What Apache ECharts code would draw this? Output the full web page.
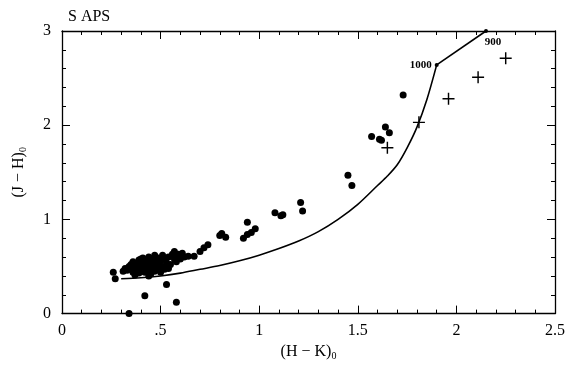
<!DOCTYPE html>
<html>
<head>
<meta charset="utf-8">
<script src="https://cdn.jsdelivr.net/npm/echarts@6/dist/echarts.min.js"></script>
<style>html,body{margin:0;padding:0;background:#fff}#c{width:570px;height:366px}</style>
</head>
<body>
<div id="c"></div>
<script>
// Observed stars (filled dots): [H-K, J-H]
const dotPoints = [
  [0.26,0.44],[0.27,0.37],[0.34,0.00],[0.42,0.19],[0.53,0.31],[0.58,0.12],[0.54,0.48],
  [0.31,0.45],[0.32,0.48],[0.33,0.46],[0.34,0.50],[0.35,0.47],[0.35,0.52],[0.36,0.44],[0.36,0.55],
  [0.37,0.49],[0.38,0.52],[0.38,0.46],[0.39,0.57],[0.39,0.43],[0.40,0.50],[0.40,0.54],[0.41,0.47],
  [0.41,0.59],[0.42,0.52],[0.42,0.44],[0.43,0.56],[0.43,0.49],[0.44,0.60],[0.44,0.46],[0.45,0.53],
  [0.45,0.42],[0.46,0.57],[0.46,0.50],[0.47,0.62],[0.47,0.45],[0.48,0.55],[0.48,0.48],[0.49,0.59],
  [0.49,0.52],[0.50,0.44],[0.50,0.56],[0.51,0.62],[0.51,0.50],[0.52,0.58],[0.52,0.47],[0.53,0.54],
  [0.54,0.60],[0.55,0.52],[0.56,0.63],[0.57,0.58],[0.58,0.55],[0.59,0.62],[0.60,0.58],[0.61,0.64],
  [0.62,0.60],[0.40,0.58],[0.37,0.41],[0.44,0.40],[0.57,0.66],[0.59,0.63],
  [0.64,0.61],[0.67,0.61],[0.70,0.66],[0.72,0.70],[0.74,0.73],
  [0.80,0.83],[0.81,0.85],[0.83,0.81],[0.94,0.97],[0.92,0.80],[0.94,0.84],[0.96,0.86],[0.98,0.90],
  [1.08,1.07],[1.11,1.04],[1.12,1.05],[1.21,1.18],[1.22,1.09],
  [1.45,1.47],[1.47,1.36],[1.57,1.88],[1.61,1.85],[1.62,1.84],[1.64,1.98],[1.66,1.92],[1.73,2.32]
];
// Crosses
const crossPoints = [[1.65,1.76],[1.81,2.03],[1.96,2.28],[2.11,2.51],[2.25,2.71]];
// Model curve (smooth part ends at the 1000 point)
const curveX = [0.30,0.40,0.50,0.60,0.70,0.80,0.90,1.00,1.10,1.20,1.30,1.40,1.50,1.60,1.65,1.70,1.75,1.80,1.85,1.90];
const curveY = [0.37,0.38,0.40,0.43,0.47,0.51,0.56,0.62,0.69,0.77,0.87,1.00,1.16,1.36,1.46,1.58,1.76,1.98,2.27,2.64];
// Straight segment from 1000 to 900
const segX = [1.90,2.15];
const segY = [2.64,3.00];
// Temperature labels on curve
const tempLabels = [{t:'1000', x:1.90, y:2.64}, {t:'900', x:2.15, y:3.00}];
const xTicks = {0:'0',0.5:'.5',1:'1',1.5:'1.5',2:'2',2.5:'2.5'};
const yTicks = {0:'0',1:'1',2:'2',3:'3'};

const FONT = '"Liberation Serif","DejaVu Serif",serif';
const chart = echarts.init(document.getElementById('c'), null, {renderer:'canvas'});
const curveData = curveX.map((x,i)=>[x,curveY[i]]);
const segData = segX.map((x,i)=>[x,segY[i]]);
const grid = {left:62, right:15, top:31, bottom:45};
function axisCommon(){
  return {
    axisLine:{show:true, onZero:false, lineStyle:{color:'#000', width:1.3}},
    axisTick:{show:true, inside:true, length:8, lineStyle:{color:'#000', width:1}},
    minorTick:{show:true, splitNumber:5, length:4, lineStyle:{color:'#000', width:1}},
    splitLine:{show:false}
  };
}
const plus = 'path://M4.4,0h1.2v4.4h4.4v1.2h-4.4v4.4h-1.2v-4.4h-4.4v-1.2h4.4z';
const nameRich = {a:{fontFamily:FONT, fontSize:16, color:'#000'}, s:{fontFamily:FONT, fontSize:10, color:'#000', padding:[9,0,0,0]}};
chart.setOption({
  animation:false,
  backgroundColor:'#fff',
  title:{text:'S APS', left:63, top:4, textStyle:{fontFamily:FONT, fontSize:16, fontWeight:'normal', color:'#000'}},
  grid:grid,
  xAxis:[
    Object.assign({type:'value', min:0, max:2.5, interval:0.5, position:'bottom',
      name:'{a|(H − K)}{s|0}', nameLocation:'middle', nameGap:24,
      nameTextStyle:{rich:nameRich},
      axisLabel:{show:true, margin:9, fontFamily:FONT, fontSize:16, color:'#000', formatter:v=>xTicks[v]!==undefined?xTicks[v]:''}
    }, axisCommon()),
    Object.assign({type:'value', min:0, max:2.5, interval:0.5, position:'top', axisLabel:{show:false}}, axisCommon())
  ],
  yAxis:[
    Object.assign({type:'value', min:0, max:3, interval:1, position:'left',
      name:'{a|(J − H)}{s|0}', nameLocation:'middle', nameGap:34, nameRotate:90,
      nameTextStyle:{rich:nameRich},
      axisLabel:{show:true, margin:11, fontFamily:FONT, fontSize:16, color:'#000', formatter:v=>yTicks[v]!==undefined?yTicks[v]:''}
    }, axisCommon()),
    Object.assign({type:'value', min:0, max:3, interval:1, position:'right', axisLabel:{show:false}}, axisCommon())
  ],
  series:[
    {type:'line', data:curveData, smooth:0.3, showSymbol:false, lineStyle:{color:'#000', width:1.6}, z:2},
    {type:'line', data:segData, smooth:false, showSymbol:false, lineStyle:{color:'#000', width:1.6}, z:2},
    {type:'scatter', data:dotPoints, symbol:'circle', symbolSize:7, itemStyle:{color:'#000', opacity:1}, z:3},
    {type:'scatter', data:crossPoints, symbol:plus, symbolSize:12, itemStyle:{color:'#000', opacity:1}, z:3},
    {type:'scatter', symbol:'circle', symbolSize:4, itemStyle:{color:'#000', opacity:1}, z:4,
     data:tempLabels.map((d,i)=>({value:[d.x,d.y], name:d.t,
       label: i===0 ? {position:'left', distance:3} : {position:'bottom', distance:4, offset:[7,0]}})),
     label:{show:true, formatter:p=>p.name, fontFamily:FONT, fontSize:11, fontWeight:'bold', color:'#000'}
    }
  ]
});
</script>
</body>
</html>
